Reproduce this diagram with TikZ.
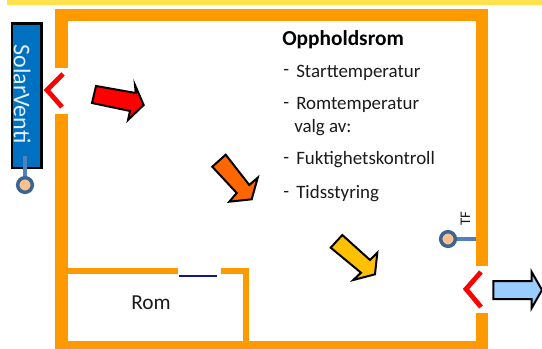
\documentclass[tikz,border=0pt]{standalone}
\usepackage{fontspec}
\setmainfont{Carlito}
\definecolor{wall}{HTML}{FF9900}
\definecolor{bar}{HTML}{FFE24D}
\definecolor{sensorline}{HTML}{4F81BD}
\definecolor{sensorring}{HTML}{3A6492}
\definecolor{sensorfill}{HTML}{F8C08E}
\definecolor{txt}{HTML}{1A1A1A}
\tikzset{
  x=0.75pt,y=-0.75pt,
  wallfill/.style={fill=wall,draw=none},
  chevron/.style={draw=red,line width=3.6pt,line join=miter,line cap=butt},
  blockarrow/.style={draw=black,line width=1.5pt,line join=miter},
  sensor/.style={circle,draw=sensorring,fill=sensorfill,line width=2.6pt,minimum size=11pt,inner sep=0pt},
  sensorwire/.style={draw=sensorline,line width=2.6pt},
  label/.style={anchor=base west,inner sep=0pt,text=txt,font=\fontsize{14.2pt}{16pt}\selectfont},
}
\begin{document}
\begin{tikzpicture}
\useasboundingbox (0,0) rectangle (542,349);
% top bar
\fill[bar] (7,0) rectangle (542,5);
% outer walls
\path[wallfill] (55,9) rectangle (488,21);
\path[wallfill] (55,21) rectangle (68,68);
\path[wallfill] (55,114) rectangle (68,349);
\path[wallfill] (476,21) rectangle (488,266);
\path[wallfill] (476,313) rectangle (488,349);
\path[wallfill] (68,341) rectangle (476,349);
% inner room
\path[wallfill] (68,268) rectangle (178,274);
\path[wallfill] (221,268) rectangle (249,274);
\path[wallfill] (243,274) rectangle (249,341);
\draw[draw={rgb,255:red,20;green,20;blue,140},line width=1.5pt] (179,276) -- (217,276);
% vents
\draw[chevron] (63,74) -- (47,90) -- (62,107);
\draw[chevron] (481,272) -- (466,289) -- (481,307);
% SolarVenti box
\node[draw=black,fill={rgb,255:red,0;green,112;blue,192},line width=2.2pt,minimum width=21.8pt,minimum height=108pt,inner sep=0pt,anchor=north west] (venti) at (10.5,22.5) {};
\node[rotate=-90,text={rgb,255:red,225;green,240;blue,250},inner sep=0pt,font=\fontsize{18pt}{20pt}\selectfont] (ventitext) at (22,94) {SolarVenti};
% sensors
\coordinate (wireA) at (25,156);
\node[sensor] (sensorA) at (25,185) {};
\draw[sensorwire] (wireA) -- (sensorA);
\coordinate (wireB) at (476,239);
\node[sensor] (sensorB) at (448,239) {};
\draw[sensorwire] (sensorB) -- (wireB);
\node[rotate=90,inner sep=0pt,text=txt,font=\fontsize{11pt}{12pt}\selectfont] (tf) at (465.5,219) {TF};
% block arrows
\draw[blockarrow,fill=red] (96,86) -- (135.7,93) -- (135,85) -- (143.7,105) -- (128,120) -- (130,111) -- (92,103) -- cycle;
\draw[blockarrow,fill={rgb,255:red,255;green,102;blue,0}] (225.7,154.7) -- (249.3,185) -- (257.7,177.7) -- (251.7,199.3) -- (229.3,201.7) -- (236.7,193) -- (212.3,166.7) -- cycle;
\draw[blockarrow,fill={rgb,255:red,255;green,192;blue,0}] (342.3,235) -- (370,260) -- (377.3,252.7) -- (375,274.3) -- (353.3,280) -- (361,272.7) -- (330.7,247.7) -- cycle;
\draw[blockarrow,fill={rgb,255:red,153;green,204;blue,255}] (493.3,281) -- (531.7,281) -- (531.7,272) -- (542,290) -- (531.7,308) -- (531.7,299) -- (493.3,299) -- cycle;
% texts
\node[label,font=\fontsize{16pt}{18pt}\bfseries\selectfont,text=black] (title) at (282,46) {Oppholdsrom};
\node[label] (dashA) at (283,76) {-};
\node[label] (itemA) at (296,77.5) {Starttemperatur};
\node[label] (dashB) at (283,109) {-};
\node[label] (itemB) at (296,110) {Romtemperatur};
\node[label] (itemC) at (294,133) {valg av:};
\node[label] (dashD) at (283,164) {-};
\node[label] (itemD) at (296,165) {Fuktighetskontroll};
\node[label] (dashE) at (283,197) {-};
\node[label] (itemE) at (296,198) {Tidsstyring};
\node[label,font=\fontsize{16pt}{18pt}\selectfont] (rom) at (131,309) {Rom};
\end{tikzpicture}
\end{document}
